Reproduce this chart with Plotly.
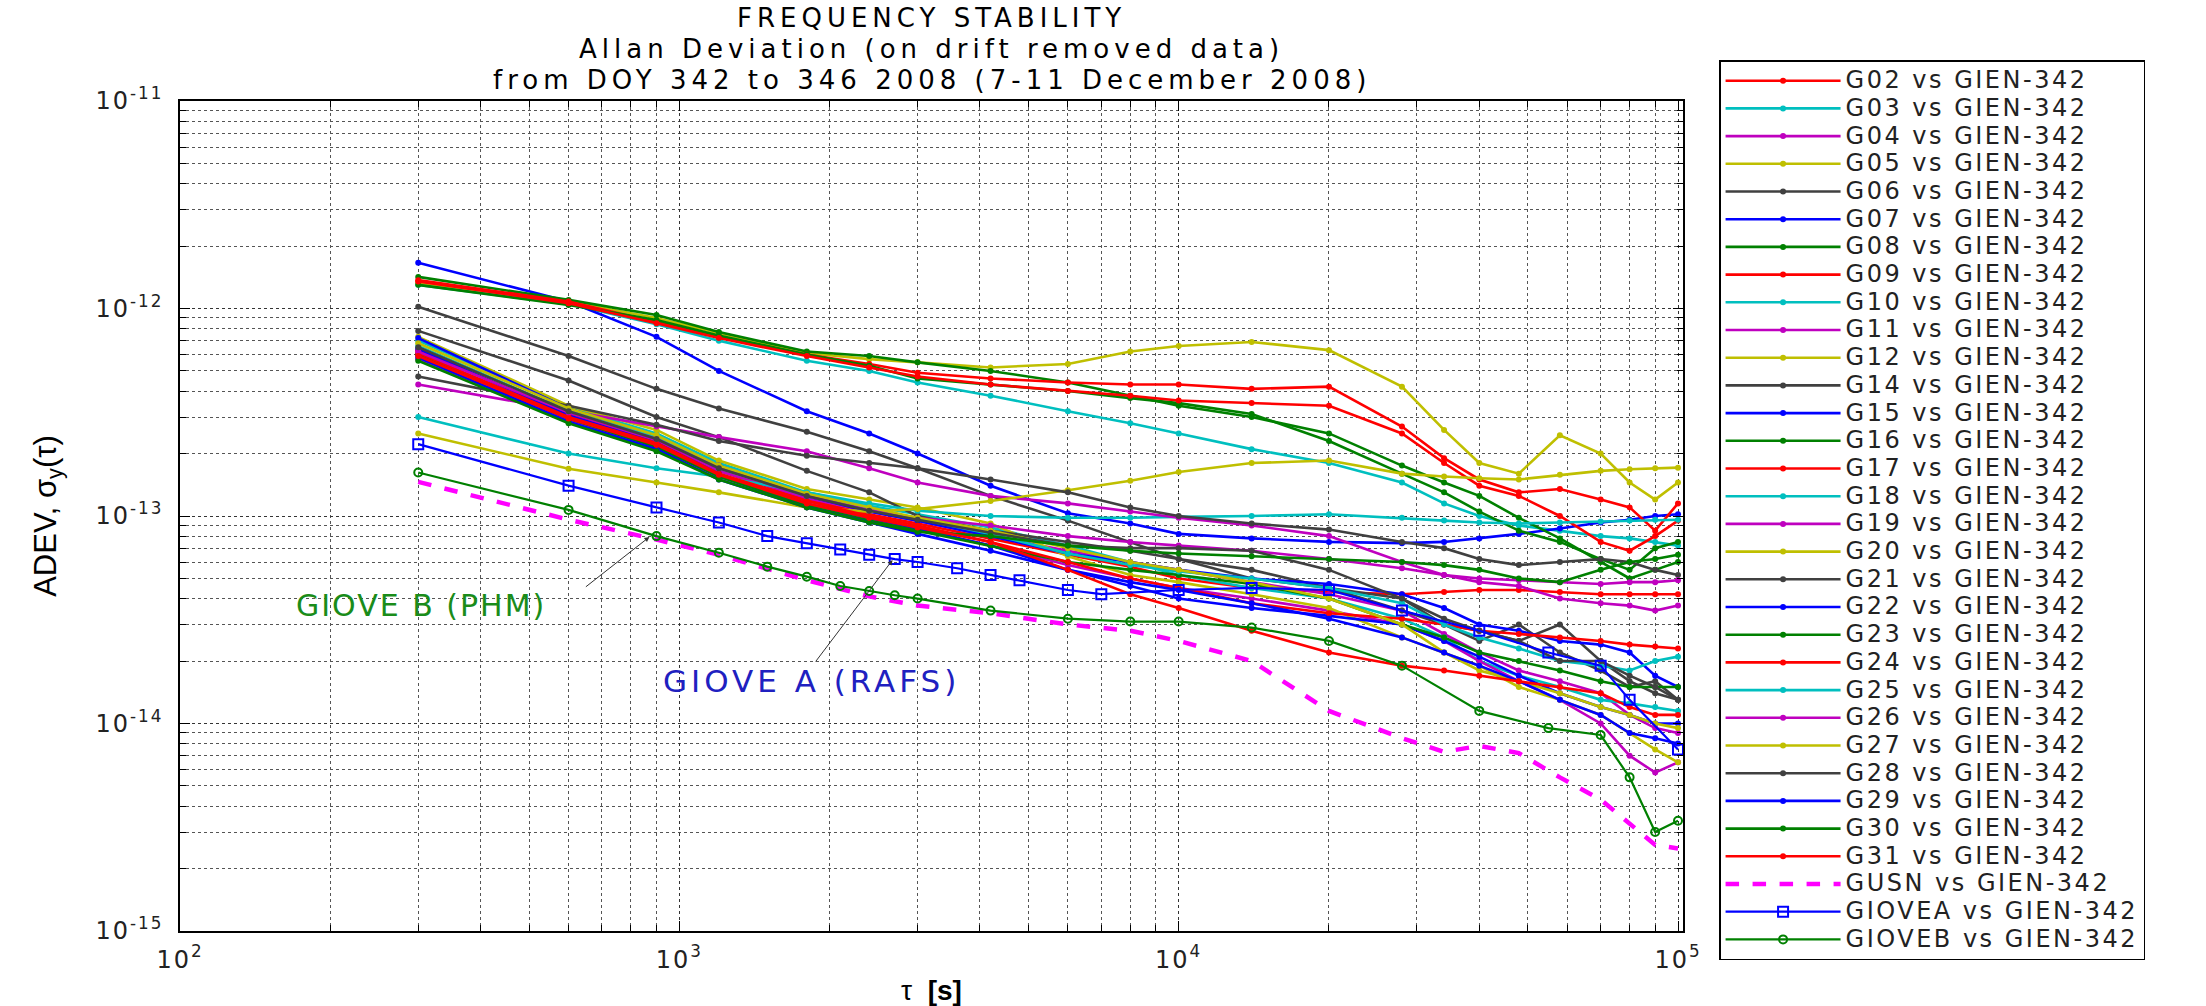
import plotly.graph_objects as go

SCALE = 1e-13  # values below are ADEV in units of 1e-13

tau = [300, 600, 900, 1200, 1800, 2400, 3000, 4200, 6000, 8000, 10000, 14000,
       20000, 28000, 34000, 40000, 48000, 58000, 70000, 80000, 90000, 100000]

G02 = [6.3, 3.1, 2.3, 1.65, 1.2, 1.02, 0.92, 0.78, 0.65, 0.57, 0.5, 0.45, 0.43, 0.42, 0.43, 0.44, 0.44, 0.43, 0.42, 0.42, 0.42, 0.42]
G03 = [13.0, 10.5, 8.4, 7.0, 5.6, 5.0, 4.4, 3.8, 3.2, 2.8, 2.5, 2.1, 1.8, 1.45, 1.15, 1.0, 0.9, 0.85, 0.8, 0.78, 0.75, 0.72]
G04 = [6.0, 3.05, 2.3, 1.65, 1.22, 1.05, 0.95, 0.8, 0.68, 0.6, 0.55, 0.48, 0.42, 0.35, 0.27, 0.22, 0.18, 0.16, 0.14, 0.11, 0.095, 0.09]
G05 = [13.3, 10.8, 9.0, 7.6, 6.1, 5.7, 5.5, 5.2, 5.4, 6.2, 6.6, 6.9, 6.3, 4.2, 2.6, 1.8, 1.6, 2.45, 2.0, 1.45, 1.2, 1.45]
G06 = [10.2, 5.9, 4.1, 3.3, 2.55, 2.05, 1.7, 1.25, 0.95, 0.75, 0.62, 0.5, 0.45, 0.4, 0.3, 0.28, 0.25, 0.3, 0.2, 0.16, 0.14, 0.13]
G07 = [16.6, 10.8, 7.3, 5.0, 3.2, 2.5, 2.0, 1.4, 1.03, 0.92, 0.82, 0.78, 0.75, 0.74, 0.75, 0.78, 0.82, 0.87, 0.93, 0.96, 1.0, 1.02]
G08 = [14.2, 11.0, 9.3, 7.7, 6.2, 5.9, 5.5, 5.0, 4.4, 3.8, 3.4, 3.0, 2.5, 1.75, 1.45, 1.25, 0.98, 0.78, 0.6, 0.5, 0.55, 0.6]
G09 = [13.7, 10.8, 8.6, 7.3, 6.0, 5.4, 4.9, 4.6, 4.4, 4.3, 4.3, 4.1, 4.2, 2.7, 1.9, 1.5, 1.3, 1.35, 1.2, 1.1, 0.85, 1.15]
G10 = [7.0, 3.35, 2.5, 1.8, 1.3, 1.12, 1.02, 0.88, 0.72, 0.6, 0.52, 0.45, 0.4, 0.32, 0.26, 0.2, 0.17, 0.15, 0.13, 0.125, 0.12, 0.115]
G11 = [5.7, 2.9, 2.15, 1.55, 1.13, 0.96, 0.86, 0.72, 0.58, 0.5, 0.45, 0.4, 0.35, 0.3, 0.25, 0.2, 0.16, 0.13, 0.1, 0.07, 0.058, 0.065]
G12 = [7.3, 3.4, 2.6, 1.85, 1.35, 1.2, 1.1, 0.92, 0.64, 0.52, 0.48, 0.42, 0.36, 0.26, 0.22, 0.19, 0.15, 0.13, 0.11, 0.09, 0.075, 0.065]
G14 = [7.8, 4.5, 3.0, 2.4, 1.65, 1.3, 1.0, 0.85, 0.75, 0.68, 0.62, 0.55, 0.45, 0.35, 0.3, 0.25, 0.3, 0.22, 0.18, 0.15, 0.16, 0.13]
G15 = [7.2, 3.3, 2.4, 1.75, 1.25, 1.05, 0.95, 0.8, 0.66, 0.6, 0.55, 0.5, 0.47, 0.42, 0.36, 0.3, 0.28, 0.25, 0.24, 0.22, 0.17, 0.15]
G16 = [13.0, 10.4, 8.8, 7.4, 6.0, 5.3, 4.6, 4.3, 4.0, 3.7, 3.5, 3.1, 2.3, 1.6, 1.3, 1.05, 0.85, 0.75, 0.62, 0.55, 0.7, 0.75]
G17 = [13.5, 10.6, 8.5, 7.2, 5.9, 5.2, 4.7, 4.3, 4.0, 3.8, 3.6, 3.5, 3.4, 2.5, 1.8, 1.4, 1.25, 1.0, 0.75, 0.68, 0.8, 0.95]
G18 = [3.0, 2.0, 1.7, 1.55, 1.3, 1.15, 1.06, 1.0, 0.98, 0.98, 0.99, 1.0, 1.02, 0.98, 0.95, 0.93, 0.92, 0.93, 0.94, 0.95, 0.96, 0.96]
G19 = [4.3, 3.2, 2.7, 2.4, 2.05, 1.7, 1.45, 1.25, 1.15, 1.05, 0.98, 0.9, 0.8, 0.6, 0.52, 0.48, 0.46, 0.4, 0.38, 0.37, 0.35, 0.37]
G20 = [2.5, 1.69, 1.45, 1.3, 1.1, 1.05, 1.08, 1.18, 1.33, 1.48, 1.63, 1.8, 1.85, 1.6, 1.55, 1.52, 1.5, 1.58, 1.65, 1.68, 1.7, 1.71]
G21 = [4.7, 3.4, 2.75, 2.3, 1.95, 1.8, 1.7, 1.5, 1.3, 1.1, 1.0, 0.92, 0.86, 0.75, 0.7, 0.62, 0.58, 0.6, 0.62, 0.6, 0.55, 0.52]
G22 = [6.4, 3.05, 2.25, 1.6, 1.15, 0.98, 0.87, 0.72, 0.55, 0.46, 0.4, 0.36, 0.33, 0.3, 0.25, 0.21, 0.17, 0.14, 0.12, 0.11, 0.1, 0.1]
G23 = [6.0, 2.95, 2.15, 1.55, 1.12, 0.95, 0.85, 0.72, 0.6, 0.55, 0.52, 0.47, 0.4, 0.3, 0.26, 0.22, 0.2, 0.18, 0.16, 0.15, 0.15, 0.15]
G24 = [6.1, 3.0, 2.25, 1.6, 1.18, 1.0, 0.9, 0.75, 0.6, 0.5, 0.45, 0.38, 0.34, 0.32, 0.3, 0.28, 0.27, 0.26, 0.25, 0.24, 0.235, 0.23]
G25 = [6.6, 3.2, 2.4, 1.7, 1.25, 1.08, 0.97, 0.82, 0.66, 0.58, 0.54, 0.5, 0.45, 0.38, 0.3, 0.26, 0.23, 0.2, 0.19, 0.18, 0.2, 0.21]
G26 = [6.2, 3.15, 2.35, 1.7, 1.25, 1.07, 0.98, 0.9, 0.8, 0.75, 0.72, 0.68, 0.62, 0.56, 0.52, 0.5, 0.49, 0.48, 0.47, 0.48, 0.48, 0.49]
G27 = [6.8, 3.3, 2.45, 1.75, 1.28, 1.1, 0.98, 0.85, 0.7, 0.6, 0.55, 0.48, 0.4, 0.3, 0.22, 0.18, 0.16, 0.14, 0.12, 0.11, 0.1, 0.095]
G28 = [6.5, 3.2, 2.35, 1.7, 1.25, 1.06, 0.96, 0.83, 0.72, 0.7, 0.7, 0.68, 0.55, 0.4, 0.32, 0.28, 0.25, 0.2, 0.2, 0.17, 0.15, 0.13]
G29 = [5.8, 2.85, 2.1, 1.5, 1.1, 0.93, 0.82, 0.68, 0.55, 0.48, 0.44, 0.38, 0.32, 0.26, 0.22, 0.19, 0.16, 0.13, 0.11, 0.09, 0.085, 0.08]
G30 = [5.6, 2.8, 2.05, 1.5, 1.1, 0.93, 0.84, 0.8, 0.72, 0.68, 0.66, 0.64, 0.62, 0.6, 0.58, 0.55, 0.5, 0.48, 0.55, 0.6, 0.62, 0.65]
G31 = [5.9, 2.95, 2.2, 1.58, 1.15, 0.98, 0.88, 0.75, 0.55, 0.42, 0.36, 0.28, 0.22, 0.19, 0.18, 0.17, 0.16, 0.15, 0.14, 0.12, 0.11, 0.11]

tau_gusn = [300, 600, 900, 1200, 1800, 2400, 3000, 4200, 6000, 8000, 10000, 14000,
            20000, 28000, 34000, 40000, 48000, 58000, 70000, 80000, 90000, 100000]
GUSN = [1.46, 0.96, 0.77, 0.65, 0.49, 0.41, 0.37, 0.34, 0.30, 0.28, 0.25, 0.20,
        0.115, 0.085, 0.073, 0.078, 0.072, 0.055, 0.043, 0.033, 0.026, 0.025]

tau_giovea = [300, 600, 900, 1200, 1500, 1800, 2100, 2400, 2700, 3000, 3600, 4200, 4800,
              6000, 7000, 10000, 14000, 20000, 28000, 40000, 55000, 70000, 80000, 100000]
GIOVEA = [2.22, 1.40, 1.10, 0.93, 0.80, 0.74, 0.69, 0.65, 0.62, 0.60, 0.56, 0.52, 0.49,
          0.44, 0.42, 0.44, 0.45, 0.44, 0.35, 0.28, 0.22, 0.19, 0.13, 0.075]

tau_gioveb = [300, 600, 900, 1200, 1500, 1800, 2100, 2400, 2700, 3000, 4200, 6000, 8000,
              10000, 14000, 20000, 28000, 40000, 55000, 70000, 80000, 90000, 100000]
GIOVEB = [1.62, 1.07, 0.80, 0.665, 0.57, 0.51, 0.46, 0.435, 0.415, 0.40, 0.35, 0.32, 0.31,
          0.31, 0.29, 0.25, 0.19, 0.115, 0.095, 0.088, 0.055, 0.030, 0.034]

gps_names = ["G02", "G03", "G04", "G05", "G06", "G07", "G08", "G09", "G10", "G11", "G12",
             "G14", "G15", "G16", "G17", "G18", "G19", "G20", "G21", "G22", "G23", "G24",
             "G25", "G26", "G27", "G28", "G29", "G30", "G31"]
gps_values = [G02, G03, G04, G05, G06, G07, G08, G09, G10, G11, G12, G14, G15, G16, G17,
              G18, G19, G20, G21, G22, G23, G24, G25, G26, G27, G28, G29, G30, G31]

color_cycle = ["#ff0000", "#00bfbf", "#bf00bf", "#bfbf00", "#404040", "#0000ff", "#008000"]


def spaced(text, px):
    return '<span style="letter-spacing:{}px">{}</span>'.format(px, text)


def legend_label(text):
    return '<span style="font-size:24px;letter-spacing:2.5px">{}</span>'.format(text)


fig = go.Figure()
for i, (nm, vals) in enumerate(zip(gps_names, gps_values)):
    c = color_cycle[i % 7]
    fig.add_trace(go.Scatter(
        x=tau, y=[v * SCALE for v in vals], mode="lines+markers",
        line=dict(color=c, width=2.6), marker=dict(color=c, size=6, symbol="circle"),
        name=legend_label(nm + " vs GIEN-342")))

fig.add_trace(go.Scatter(
    x=tau_gusn, y=[v * SCALE for v in GUSN], mode="lines",
    line=dict(color="#ff00ff", width=4.5, dash="dash"),
    name=legend_label("GUSN vs GIEN-342")))
fig.add_trace(go.Scatter(
    x=tau_giovea, y=[v * SCALE for v in GIOVEA], mode="lines+markers",
    line=dict(color="#0000ff", width=2.2),
    marker=dict(symbol="square-open", size=10, color="#0000ff", line=dict(width=2)),
    name=legend_label("GIOVEA vs GIEN-342")))
fig.add_trace(go.Scatter(
    x=tau_gioveb, y=[v * SCALE for v in GIOVEB], mode="lines+markers",
    line=dict(color="#008000", width=2.2),
    marker=dict(symbol="circle-open", size=8, color="#008000", line=dict(width=2)),
    name=legend_label("GIOVEB vs GIEN-342")))

grid_minor = dict(ticks="inside", ticklen=6, tickcolor="black", dtick="D1",
                  showgrid=True, gridcolor="#555555", griddash="dot", gridwidth=1)

tick_font = dict(family="DejaVu Sans", size=24, color="#222")

fig.update_xaxes(
    type="log", range=[2, 5.01],
    tickvals=[1e2, 1e3, 1e4, 1e5],
    ticktext=[spaced("10<sup>%d</sup>" % e, 2) for e in (2, 3, 4, 5)],
    ticks="inside", ticklen=10, tickcolor="black", mirror="allticks",
    showline=True, linecolor="black", linewidth=1.5,
    showgrid=True, gridcolor="#333333", griddash="dot", gridwidth=1,
    minor=grid_minor, zeroline=False, ticklabelstandoff=6,
    tickfont=tick_font,
    title=dict(text="τ  <b>[s]</b>", font=dict(family="Liberation Sans", size=28, color="black"),
               standoff=8),
)
fig.update_yaxes(
    type="log", range=[-15, -11],
    tickvals=[1e-15, 1e-14, 1e-13, 1e-12, 1e-11],
    ticktext=[spaced("10<sup>-%d</sup>" % e, 2) for e in (15, 14, 13, 12, 11)],
    ticks="inside", ticklen=10, tickcolor="black", mirror="allticks",
    showline=True, linecolor="black", linewidth=1.5,
    showgrid=True, gridcolor="#333333", griddash="dot", gridwidth=1,
    minor=grid_minor, zeroline=False, ticklabelstandoff=10,
    tickfont=tick_font,
    title=dict(text="ADEV, σ<sub>y</sub>(τ)", font=dict(family="Liberation Sans", size=31, color="black"),
               standoff=30),
)

title_lines = ["FREQUENCY STABILITY",
               "Allan Deviation (on drift removed data)",
               "from DOY 342 to 346 2008 (7-11 December 2008)"]
title_y = [1.1, 1.0627, 1.0253]
for txt, yy in zip(title_lines, title_y):
    fig.add_annotation(x=0.5, y=yy, xref="paper", yref="paper", text=spaced(txt, 5),
                       showarrow=False, xanchor="center", yanchor="middle",
                       font=dict(family="DejaVu Sans", size=26, color="black"))

# annotations pointing to GIOVE curves
fig.add_annotation(x=2.483, y=-13.429, xref="x", yref="y", text=spaced("GIOVE B (PHM)", 2),
                   showarrow=False, font=dict(family="DejaVu Sans", size=30, color="#1a8c1a"))
fig.add_annotation(x=2.94, y=-13.101, xref="x", yref="y", text="", showarrow=True,
                   ax=-65, ay=51, arrowhead=2, arrowsize=1, arrowwidth=1, arrowcolor="#333")
fig.add_annotation(x=3.265, y=-13.795, xref="x", yref="y", text=spaced("GIOVE A (RAFS)", 4),
                   showarrow=False, font=dict(family="DejaVu Sans", size=31, color="#2020c0"))
fig.add_annotation(x=3.427, y=-13.212, xref="x", yref="y", text="", showarrow=True,
                   ax=-78, ay=103, arrowhead=2, arrowsize=1, arrowwidth=1, arrowcolor="#333")

fig.update_layout(
    width=2206, height=1006,
    margin=dict(l=180, r=523, t=101, b=75, autoexpand=False),
    paper_bgcolor="white", plot_bgcolor="white",
    showlegend=True,
    legend=dict(x=1.024, y=1.049, xanchor="left", yanchor="top",
                bordercolor="black", borderwidth=1.5, bgcolor="white",
                font=dict(family="DejaVu Sans", size=19, color="#222"),
                itemwidth=115, tracegroupgap=0, maxheight=1000),
)

fig.write_html("out.html")
